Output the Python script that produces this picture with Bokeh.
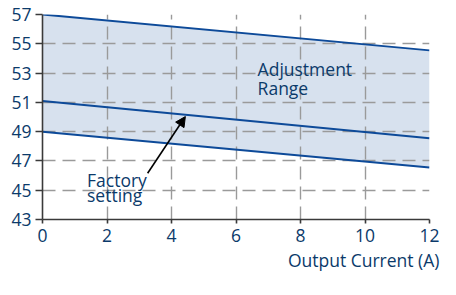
from bokeh.plotting import figure
from bokeh.models import Range1d, FixedTicker, Label, Arrow, NormalHead, ColumnDataSource, Title
from bokeh.embed import file_html
from bokeh.resources import INLINE

# data
current = [0, 12]
upper_limit = [57.0, 54.55]
factory_setting = [51.1, 48.55]
lower_limit = [49.0, 46.55]
x_ticks = [0, 2, 4, 6, 8, 10, 12]
y_ticks = [43, 45, 47, 49, 51, 53, 55, 57]
x_title = "Output Current (A)"

FONT = "Open Sans"
NAVY = "#0b3a6a"
LINE = "#0d4a99"
FILL = "#d7e1ee"
FS = "17.5px"

p = figure(width=440, height=279, output_backend="svg", toolbar_location=None,
           x_range=Range1d(0, 12), y_range=Range1d(43, 57),
           min_border_left=42, min_border_right=11, min_border_top=14, min_border_bottom=60)
p.outline_line_color = None
p.background_fill_color = "white"

src = ColumnDataSource(dict(x=current, up=upper_limit, fac=factory_setting, lo=lower_limit))
p.varea(x="x", y1="lo", y2="up", source=src, fill_color=FILL, level="image")

for ax, ticks in ((p.xaxis, x_ticks), (p.yaxis, y_ticks)):
    ax.ticker = FixedTicker(ticks=ticks)
    ax.major_label_text_font = FONT
    ax.major_label_text_font_size = FS
    ax.major_label_text_color = NAVY
    ax.axis_line_color = "#3a3a3a"
    ax.axis_line_width = 1.6
    ax.major_tick_line_color = "#3a3a3a"
    ax.major_tick_line_width = 1.6
    ax.major_tick_in = 0
    ax.minor_tick_line_color = None
p.xaxis.major_tick_out = 4
p.xaxis.major_label_standoff = 5
p.yaxis.major_tick_out = 7
p.yaxis.major_label_standoff = 4

for g in (p.xgrid, p.ygrid):
    g.grid_line_color = "#9a9a9a"
    g.grid_line_width = 1.4
    g.grid_line_dash = "13 7"

p.line("x", "up", source=src, line_color=LINE, line_width=2)
p.line("x", "fac", source=src, line_color=LINE, line_width=2)
p.line("x", "lo", source=src, line_color=LINE, line_width=2)

def lab(x, y, t, align="left"):
    p.add_layout(Label(x=x, y=y, text=t, text_font=FONT, text_font_size=FS,
                       text_color=NAVY, text_align=align, text_baseline="alphabetic"))

lab(6.67, 53.28, "Adjustment")
lab(6.67, 51.97, "Range")
lab(1.38, 45.71, "Factory")
lab(1.38, 44.68, "setting")

p.add_layout(Title(text=x_title, align="right", offset=-10, standoff=3,
                   text_font=FONT, text_font_size=FS, text_font_style="normal",
                   text_color=NAVY), "below")

p.add_layout(Arrow(x_start=3.26, y_start=46.16, x_end=4.43, y_end=50.03,
                   line_color="black", line_width=1.6,
                   end=NormalHead(size=10, fill_color="black", line_color="black")))

open("out.html", "w").write(file_html(p, INLINE))
